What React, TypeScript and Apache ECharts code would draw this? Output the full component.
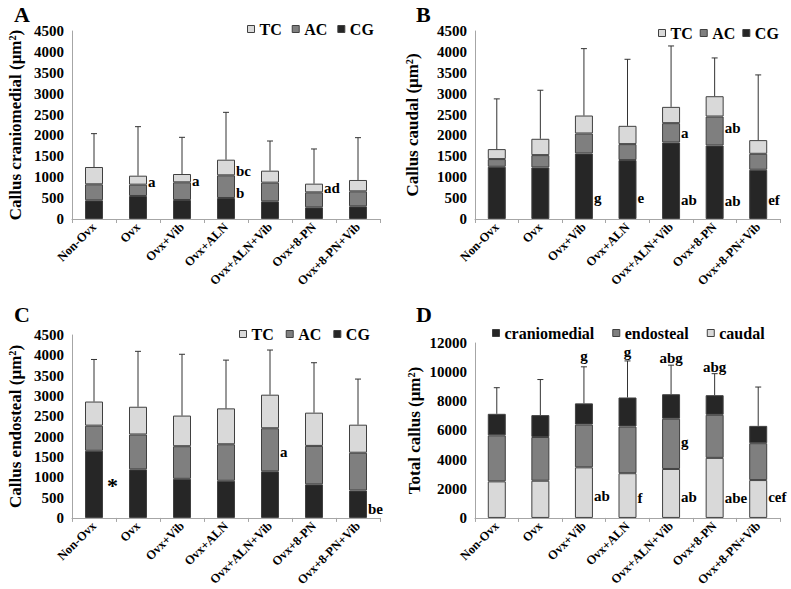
import React, { useEffect, useRef } from "react";
import * as echarts from "echarts";

const categories = ["Non-Ovx", "Ovx", "Ovx+Vib", "Ovx+ALN", "Ovx+ALN+Vib", "Ovx+8-PN", "Ovx+8-PN+Vib"];

// Panel A: callus craniomedial
const craniCG = [447, 551, 455, 503, 423, 279, 303];
const craniAC = [383, 271, 423, 542, 447, 359, 359];
const craniTC = [415, 215, 199, 375, 287, 208, 272];
const craniSD = [798, 1173, 878, 1133, 710, 830, 1013];
const craniNotes = [
  { cat: 1, y: 880, text: "a", pos: "right" },
  { cat: 2, y: 915, text: "a", pos: "right" },
  { cat: 3, y: 1155, text: "bc", pos: "right" },
  { cat: 3, y: 615, text: "b", pos: "right" },
  { cat: 5, y: 735, text: "ad", pos: "right" },
];

// Panel B: callus caudal
const caudCG = [1250, 1235, 1569, 1410, 1832, 1760, 1179];
const caudAC = [184, 294, 478, 382, 462, 693, 382];
const caudTC = [239, 391, 430, 438, 390, 486, 327];
const caudSD = [1202, 1162, 1601, 1593, 1458, 916, 1561];
const caudNotes = [
  { cat: 2, y: 510, text: "g", pos: "right" },
  { cat: 3, y: 510, text: "e", pos: "right" },
  { cat: 4, y: 2070, text: "a", pos: "right" },
  { cat: 4, y: 460, text: "ab", pos: "right" },
  { cat: 5, y: 2180, text: "ab", pos: "right" },
  { cat: 5, y: 420, text: "ab", pos: "right" },
  { cat: 6, y: 460, text: "ef", pos: "right" },
];

// Panel C: callus endosteal
const endoCG = [1652, 1195, 962, 914, 1147, 826, 674];
const endoAC = [618, 858, 802, 898, 1059, 946, 930];
const endoTC = [593, 682, 754, 883, 826, 818, 690];
const endoSD = [1035, 1363, 1508, 1187, 1098, 1228, 1122];
const endoNotes = [
  { cat: 0, y: 914, text: "*", pos: "right" },
  { cat: 4, y: 1612, text: "a", pos: "right" },
  { cat: 6, y: 224, text: "be", pos: "right" },
];

// Panel D: total callus
const totalCaudal = [2508, 2552, 3470, 3067, 3358, 4120, 2597];
const totalEndosteal = [3157, 3001, 2934, 3202, 3448, 2955, 2530];
const totalCraniomedial = [1477, 1500, 1455, 1993, 1680, 1344, 1187];
const totalSD = [1792, 2440, 2507, 2508, 1992, 1477, 2665];
const totalNotes = [
  { cat: 2, y: 11080, text: "g", pos: "top" },
  { cat: 3, y: 11350, text: "g", pos: "top" },
  { cat: 4, y: 10950, text: "abg", pos: "top" },
  { cat: 5, y: 10360, text: "abg", pos: "top" },
  { cat: 2, y: 1480, text: "ab", pos: "right" },
  { cat: 3, y: 1360, text: "f", pos: "right" },
  { cat: 4, y: 5240, text: "g", pos: "right" },
  { cat: 4, y: 1410, text: "ab", pos: "right" },
  { cat: 5, y: 1360, text: "abe", pos: "right" },
  { cat: 6, y: 1410, text: "cef", pos: "right" },
];

const yTicksSmall = { max: 4500, interval: 500 };
const yTicksLarge = { max: 12000, interval: 2000 };

const FONT = "Liberation Serif, Times New Roman, serif";
const C_LIGHT = "#d9d9d9";
const C_MID = "#7f7f7f";
const C_DARK = "#262626";
const BAR_W = 18;

type Note = { cat: number; y: number; text: string; pos: string };

const panels = [
  {
    letter: "A", name: "Callus craniomedial (μm²)", grid: { left: 72, top: 31, width: 308, height: 188 },
    ticks: yTicksSmall, nameGap: 48,
    legend: { left: 247, top: 21, itemGap: 10 },
    series: [
      { name: "CG", data: craniCG, color: C_DARK },
      { name: "AC", data: craniAC, color: C_MID },
      { name: "TC", data: craniTC, color: C_LIGHT },
    ],
    legendOrder: ["TC", "AC", "CG"], sd: craniSD, notes: craniNotes,
  },
  {
    letter: "B", name: "Callus caudal (μm²)", grid: { left: 475, top: 31, width: 305, height: 188 },
    ticks: yTicksSmall, nameGap: 54,
    legend: { left: 658, top: 25, itemGap: 7 },
    series: [
      { name: "CG", data: caudCG, color: C_DARK },
      { name: "AC", data: caudAC, color: C_MID },
      { name: "TC", data: caudTC, color: C_LIGHT },
    ],
    legendOrder: ["TC", "AC", "CG"], sd: caudSD, notes: caudNotes,
  },
  {
    letter: "C", name: "Callus endosteal (μm²)", grid: { left: 72, top: 335, width: 308, height: 187 },
    ticks: yTicksSmall, nameGap: 48,
    legend: { left: 239, top: 326, itemGap: 12 },
    series: [
      { name: "CG", data: endoCG, color: C_DARK },
      { name: "AC", data: endoAC, color: C_MID },
      { name: "TC", data: endoTC, color: C_LIGHT },
    ],
    legendOrder: ["TC", "AC", "CG"], sd: endoSD, notes: endoNotes,
  },
  {
    letter: "D", name: "Total callus (μm²)", grid: { left: 475, top: 343, width: 305, height: 179 },
    ticks: yTicksLarge, nameGap: 52,
    legend: { left: 492, top: 325, itemGap: 18 },
    series: [
      { name: "caudal", data: totalCaudal, color: C_LIGHT },
      { name: "endosteal", data: totalEndosteal, color: C_MID },
      { name: "craniomedial", data: totalCraniomedial, color: C_DARK },
    ],
    legendOrder: ["craniomedial", "endosteal", "caudal"], sd: totalSD, notes: totalNotes,
  },
];

function buildOption() {
  const grid: any[] = [];
  const xAxis: any[] = [];
  const yAxis: any[] = [];
  const series: any[] = [];
  const legend: any[] = [];
  const title: any[] = [];

  panels.forEach((p, i) => {
    grid.push({ ...p.grid });
    xAxis.push({
      type: "category", gridIndex: i, data: categories,
      axisLine: { lineStyle: { color: "#a6a6a6" } },
      axisTick: { show: true, length: 4, lineStyle: { color: "#a6a6a6" } },
      axisLabel: { interval: 0, rotate: 45, margin: 6, fontFamily: FONT, fontWeight: "bold", fontSize: 12.5, color: "#000" },
    });
    yAxis.push({
      type: "value", gridIndex: i, min: 0, max: p.ticks.max, interval: p.ticks.interval,
      name: p.name, nameLocation: "middle", nameGap: p.nameGap,
      nameTextStyle: { fontFamily: FONT, fontWeight: "bold", fontSize: 17, color: "#000" },
      axisLine: { show: true, lineStyle: { color: "#a6a6a6" } },
      axisTick: { show: false },
      splitLine: { show: false },
      axisLabel: {
        margin: 8, fontFamily: FONT, fontWeight: "bold", fontSize: 15, color: "#000",
        formatter: (v: number) => String(v),
      },
    });
    title.push({
      text: p.letter, left: i % 2 === 0 ? 14 : 416, top: i < 2 ? 3 : 303, padding: 0,
      textStyle: { fontFamily: FONT, fontWeight: "bold", fontSize: 22, color: "#000" },
    });
    legend.push({
      left: p.legend.left, top: p.legend.top, width: 320, padding: 0,
      orient: "horizontal", data: p.legendOrder, icon: "rect",
      itemWidth: 7, itemHeight: 7, itemGap: p.legend.itemGap, selectedMode: false,
      itemStyle: { borderColor: "#404040", borderWidth: 1 },
      textStyle: { fontFamily: FONT, fontWeight: "bold", fontSize: 16, color: "#000" },
    });
    const totals = categories.map((_, k) => p.series.reduce((s, se) => s + se.data[k], 0));
    p.series.forEach((se) => {
      series.push({
        type: "bar", name: se.name, stack: "s" + i, xAxisIndex: i, yAxisIndex: i,
        barWidth: BAR_W, data: se.data,
        itemStyle: { color: se.color, borderColor: "#404040", borderWidth: 1 },
      });
    });
    series.push({
      type: "custom", xAxisIndex: i, yAxisIndex: i, z: 5,
      data: categories.map((_, k) => [k, totals[k], totals[k] + p.sd[k]]),
      encode: { x: 0, y: [1, 2] },
      renderItem: (params: any, api: any) => {
        const x = api.value(0);
        const a = api.coord([x, api.value(1)]);
        const b = api.coord([x, api.value(2)]);
        return {
          type: "group",
          children: [
            { type: "line", shape: { x1: a[0], y1: a[1], x2: b[0], y2: b[1] }, style: { stroke: "#333", lineWidth: 1 } },
            { type: "line", shape: { x1: b[0] - 3, y1: b[1], x2: b[0] + 3, y2: b[1] }, style: { stroke: "#333", lineWidth: 1 } },
          ],
        };
      },
    });
    const notes: Note[] = p.notes;
    series.push({
      type: "custom", xAxisIndex: i, yAxisIndex: i, z: 6,
      data: notes.map((n) => [n.cat, n.y]),
      encode: { x: 0, y: 1 },
      renderItem: (params: any, api: any) => {
        const n = notes[params.dataIndex];
        const c = api.coord([api.value(0), api.value(1)]);
        const right = n.pos === "right";
        const star = n.text === "*";
        return {
          type: "text",
          x: right ? c[0] + BAR_W / 2 + (star ? 4 : 1) : c[0],
          y: c[1] + (star ? 5 : 0),
          style: {
            text: n.text, fill: "#000",
            font: `bold ${star ? 22 : 15}px ${FONT}`,
            align: right ? "left" : "center", verticalAlign: "middle",
          },
        };
      },
    });
  });

  return { animation: false, backgroundColor: "#fff", grid, xAxis, yAxis, series, legend, title };
}

export default function App() {
  const ref = useRef<HTMLDivElement>(null);
  useEffect(() => {
    if (!ref.current) return;
    const chart = echarts.init(ref.current, undefined, { renderer: "svg" });
    chart.setOption(buildOption() as any);
    return () => chart.dispose();
  }, []);
  return <div ref={ref} style={{ position: "fixed", left: 0, top: 0, width: 791, height: 589, background: "#fff" }} />;
}
